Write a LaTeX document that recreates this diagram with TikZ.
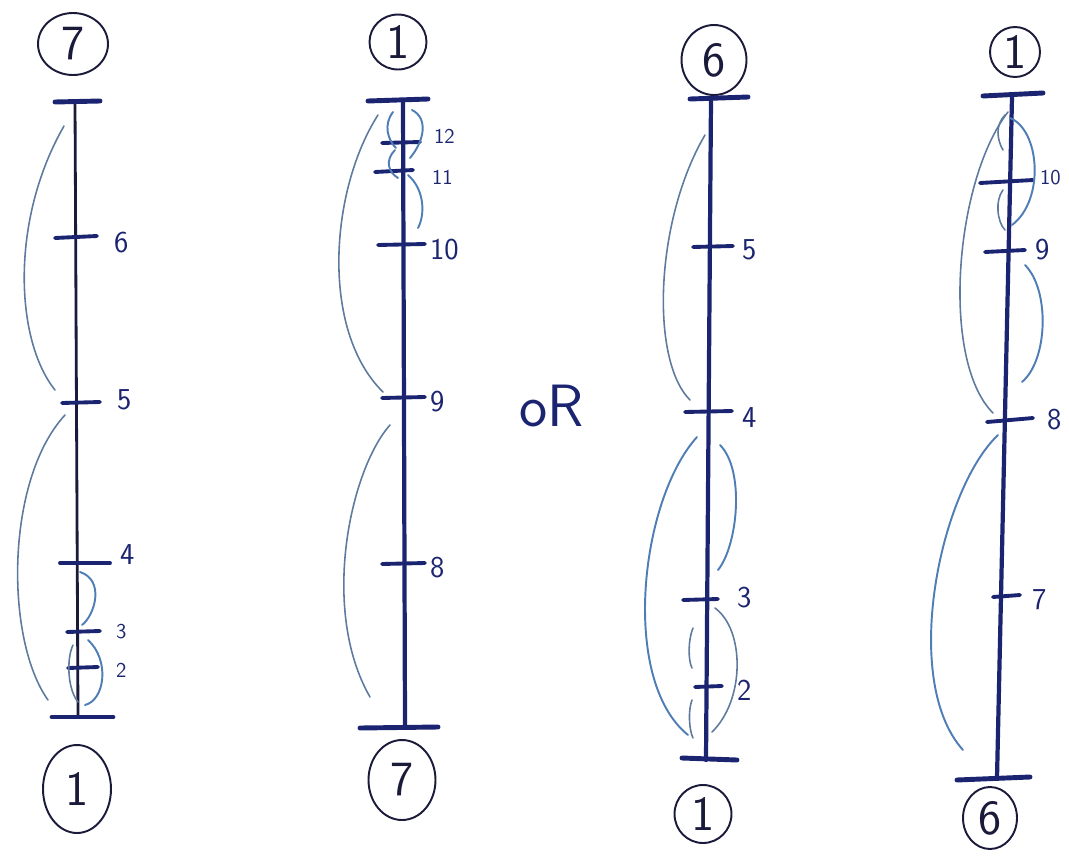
\documentclass[tikz,border=0pt]{standalone}
\usepackage{tikz}
\usetikzlibrary{shapes.geometric}
\definecolor{inkN}{HTML}{1B2470}
\definecolor{inkK}{HTML}{1A1A3A}
\definecolor{arcB}{HTML}{4F7DB5}
\definecolor{arcG}{HTML}{5E7A9E}

\begin{document}
\begin{tikzpicture}[
      x=0.02cm, y=-0.02cm,
      font=\sffamily,
      spine/.style={draw=inkN, line width=2.4pt, line cap=round},
      thinspine/.style={draw=inkK, line width=1.6pt, line cap=round},
      bar/.style={draw=inkN, line width=2.8pt, line cap=round},
      tck/.style={draw=inkN, line width=2.2pt, line cap=round},
      arc/.style={draw=arcB, line width=1.1pt, line cap=round},
      farc/.style={draw=arcG, line width=0.9pt, line cap=round},
      numlbl/.style={anchor=west, inner sep=1pt, font=\sffamily\LARGE, text=inkN},
      smlbl/.style={numlbl, font=\sffamily\large},
      endmark/.style={draw=inkK, ellipse, line width=1.1pt, inner sep=0pt,
                      font=\sffamily\fontsize{28}{30}\selectfont, text=inkK}
    ]
    \useasboundingbox (0,0) rectangle (1069,856);
    % ------------- Column 1 -------------
    \node[endmark, minimum width=1.4cm, minimum height=1.24cm] (top1) at (73,44) {7};
    \node[endmark, minimum width=1.36cm, minimum height=1.76cm] (bot1) at (77,789) {1};
    \coordinate (s1a) at (75,102);
    \coordinate (s1b) at (78,717);
    \draw[thinspine] (s1a) -- (s1b);
    \draw[bar] (55,102) -- (100,101);
    \draw[bar] (52,717) -- (113,717);
    \draw[tck] (55,238) -- (97,236);
    \draw[tck] (62,403) -- (100,402);
    \draw[tck] (60,563) -- (110,563);
    \draw[tck] (67,632) -- (100,631);
    \draw[tck] (68,668) -- (98,667);
    \node[numlbl] (l6a) at (112,243) {6};
    \node[numlbl] (l5a) at (115,400) {5};
    \node[numlbl] (l4a) at (118,555) {4};
    \node[smlbl] (l3a) at (114,632) {3};
    \node[smlbl] (l2a) at (114,670) {2};
    \draw[farc] (64,126) .. controls (10,220) and (15,340) .. (55,390);
    \draw[farc] (65,415) .. controls (5,480) and (5,640) .. (48,700);
    \draw[arc] (80,572) .. controls (105,580) and (95,615) .. (82,625);
    \draw[arc] (88,640) .. controls (110,660) and (105,700) .. (85,705);
    \draw[farc] (73,645) .. controls (66,660) and (68,690) .. (78,702);
    % ------------- Column 2 -------------
    \node[endmark, minimum width=1.14cm, minimum height=1.1cm] (top2) at (398,42) {1};
    \node[endmark, minimum width=1.34cm, minimum height=1.6cm] (bot2) at (402,780) {7};
    \coordinate (s2a) at (403,100);
    \coordinate (s2b) at (405,726);
    \draw[spine] (s2a) -- (s2b);
    \draw[bar] (368,101) -- (428,99);
    \draw[bar] (360,728) -- (438,727);
    \draw[tck] (382,143) -- (420,142);
    \draw[tck] (375,172) -- (413,170);
    \draw[tck] (378,245) -- (425,244);
    \draw[tck] (382,398) -- (425,397);
    \draw[tck] (382,564) -- (425,563);
    \node[smlbl] (l12b) at (432,136) {12};
    \node[smlbl] (l11b) at (430,177) {11};
    \node[numlbl] (l10b) at (428,250) {10};
    \node[numlbl] (l9b) at (428,402) {9};
    \node[numlbl] (l8b) at (428,568) {8};
    \draw[farc] (378,115) .. controls (330,190) and (320,330) .. (383,392);
    \draw[farc] (390,425) .. controls (350,470) and (320,610) .. (370,697);
    \draw[arc] (412,110) .. controls (428,118) and (425,140) .. (410,158);
    \draw[arc] (393,112) .. controls (383,125) and (388,140) .. (396,148);
    \draw[arc] (395,150) .. controls (385,160) and (388,172) .. (398,178);
    \draw[arc] (408,175) .. controls (425,190) and (425,215) .. (418,228);
    % ------------- or -------------
    \node[text=inkN, font=\sffamily\fontsize{34}{36}\selectfont] (orlbl) at (552,406) {oR};
    % ------------- Column 3 -------------
    \node[endmark, minimum width=1.3cm, minimum height=1.4cm] (top3) at (714,60) {6};
    \node[endmark, minimum width=1.14cm, minimum height=1.16cm] (bot3) at (703,814) {1};
    \coordinate (s3a) at (711,99);
    \coordinate (s3b) at (706,760);
    \draw[spine] (s3a) -- (s3b);
    \draw[bar] (690,99) -- (748,97);
    \draw[bar] (682,758) -- (737,760);
    \draw[tck] (693,247) -- (733,246);
    \draw[tck] (685,412) -- (732,411);
    \draw[tck] (683,600) -- (718,599);
    \draw[tck] (695,687) -- (722,686);
    \node[numlbl] (l5c) at (740,250) {5};
    \node[numlbl] (l4c) at (740,418) {4};
    \node[numlbl] (l3c) at (735,598) {3};
    \node[numlbl] (l2c) at (735,690) {2};
    \draw[farc] (705,135) .. controls (655,220) and (650,360) .. (690,400);
    \draw[arc] (697,437) .. controls (640,500) and (620,680) .. (688,735);
    \draw[arc] (720,445) .. controls (745,470) and (738,545) .. (718,570);
    \draw[farc] (715,608) .. controls (745,630) and (745,700) .. (712,732);
    \draw[farc] (693,628) .. controls (688,640) and (688,660) .. (692,668);
    \draw[farc] (692,700) .. controls (688,710) and (689,730) .. (693,738);
    % ------------- Column 4 -------------
    \node[endmark, minimum width=1.0cm, minimum height=1.0cm] (top4) at (1015,52) {1};
    \node[endmark, minimum width=1.08cm, minimum height=1.24cm] (bot4) at (990,818) {6};
    \coordinate (s4a) at (1012,97);
    \coordinate (s4b) at (997,778);
    \draw[spine] (s4a) -- (s4b);
    \draw[bar] (983,96) -- (1043,93);
    \draw[bar] (957,780) -- (1030,777);
    \draw[tck] (980,183) -- (1033,180);
    \draw[tck] (985,252) -- (1025,250);
    \draw[tck] (987,422) -- (1033,418);
    \draw[tck] (993,597) -- (1020,595);
    \node[smlbl] (l10d) at (1038,178) {10};
    \node[numlbl] (l9d) at (1033,250) {9};
    \node[numlbl] (l8d) at (1045,420) {8};
    \node[numlbl] (l7d) at (1030,600) {7};
    \draw[farc] (1008,112) .. controls (955,180) and (940,360) .. (993,413);
    \draw[arc] (998,435) .. controls (940,490) and (900,680) .. (963,750);
    \draw[arc] (1010,118) .. controls (1040,130) and (1045,200) .. (1012,225);
    \draw[farc] (1005,115) .. controls (995,125) and (997,140) .. (1003,150);
    \draw[farc] (1003,190) .. controls (995,200) and (997,222) .. (1005,230);
    \draw[arc] (1025,265) .. controls (1050,290) and (1048,360) .. (1022,382);
  \end{tikzpicture}
\end{document}
